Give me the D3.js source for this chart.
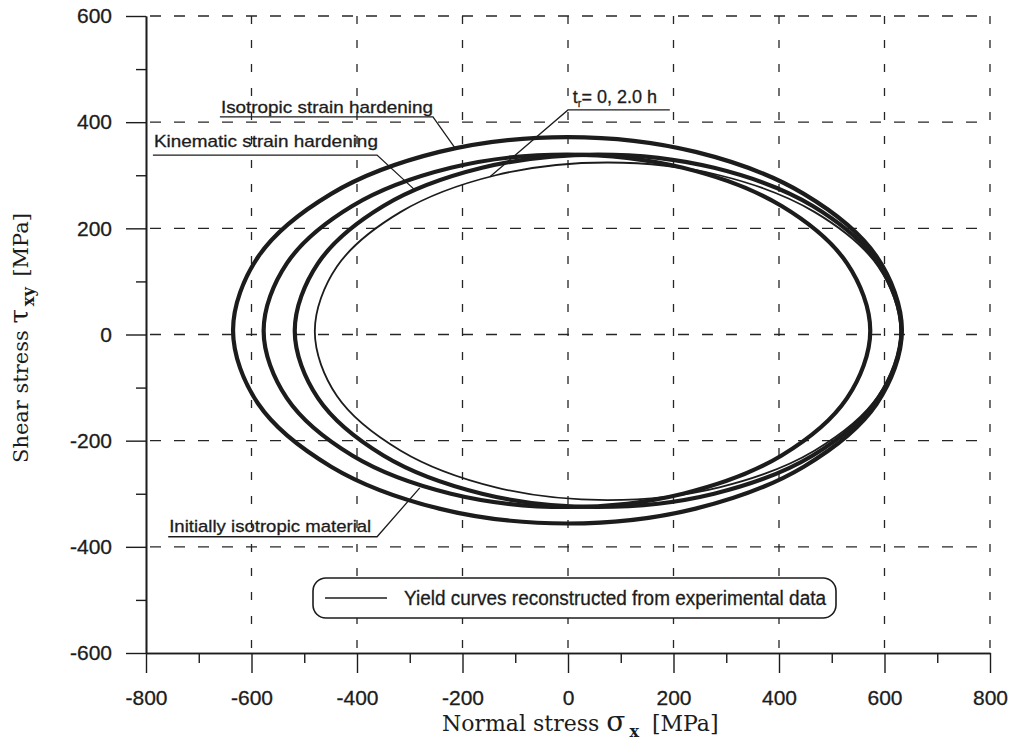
<!DOCTYPE html>
<html>
<head>
<meta charset="utf-8">
<script src="https://cdn.jsdelivr.net/npm/d3@7"></script>
<style>
  html, body { margin: 0; padding: 0; background: #fff; }
  svg { display: block; }
</style>
</head>
<body>
<svg id="chart" width="1018" height="740"></svg>
<script>
// ---- tick values (MPa) ----
const xMajorTicks = [-800, -600, -400, -200, 0, 200, 400, 600, 800];
const xMinorTicks = [-700, -500, -300, -100, 100, 300, 500, 700];
const yMajorTicks = [-600, -400, -200, 0, 200, 400, 600];
const yMinorTicks = [-500, -300, -100, 100, 300, 500];
const xGridValues = [-600, -400, -200, 0, 200, 400, 600, 800];
const yGridValues = [-400, -200, 0, 200, 400, 600];

// ---- yield curves, points [sigma_x, tau_xy] in MPa ----
const isotropicHardening = [
  [633, 8], [585, 147], [447, 265], [242, 344], [-1, 372], [-244, 344], [-449, 265], [-587, 147],
  [-635, 8], [-587, -131], [-449, -249], [-244, -328], [-1, -356], [242, -328], [447, -249], [585, -131]
];
const initialIsotropic = [
  [573, 7], [529, 134], [405, 242], [218, 314], [-2, 339], [-222, 314], [-409, 242], [-533, 134],
  [-577, 7], [-533, -120], [-409, -228], [-222, -300], [-2, -325], [218, -300], [405, -228], [529, -120]
];
const kinematicHardening = [
  [632, 7], [588, 134], [464, 242], [277, 314], [57, 339], [-163, 314], [-350, 242], [-474, 134],
  [-518, 7], [-474, -120], [-350, -228], [-163, -300], [57, -325], [277, -300], [464, -228], [588, -120]
];
const experimentalCurve = [
  [630, 6], [588, 128], [467, 231], [287, 300], [75, 324], [-137, 300], [-317, 231], [-438, 128],
  [-480, 6], [-438, -116], [-317, -219], [-137, -288], [75, -312], [287, -288], [467, -219], [588, -116]
];

// ---- labels with leader lines (positions in MPa) ----
const labelTexts = ["Isotropic strain hardening", "Kinematic strain hardening", "Initially isotropic material"];
const labelStart = [[-658, 417], [-785, 353], [-756, -372]];
const labelWidth = [212, 224, 202];
const underlineY = [410, 338, -381];
const underlineEnd = [-256, -362, -362];
const leaderEnd = [[-214, 351], [-290, 272], [-281, -289]];

const timeLabelStart = [9, 436];
const timeUnderline = [[0, 423], [193, 423]];
const timeLeaderEnd = [-148, 297];

const legendText = "Yield curves reconstructed from experimental data";

// ---- scales ----
const svg = d3.select("#chart");
const x = d3.scaleLinear().domain([-800, 800]).range([146, 990]);
const y = d3.scaleLinear().domain([-600, 600]).range([653, 16]);

const ink = "#1c1c1c";
const sansFont = "'Liberation Sans', Arial, Helvetica, sans-serif";
const serifFont = "'DejaVu Serif', 'Liberation Serif', serif";
const plainNumber = d => String(d);

// ---- dashed grid ----
const grid = svg.append("g").attr("stroke", "#262626").attr("stroke-width", 1.3).attr("fill", "none");
grid.selectAll("line.vg").data(xGridValues).join("line")
  .attr("class", "vg")
  .attr("x1", d => x(d)).attr("x2", d => x(d))
  .attr("y1", y(600)).attr("y2", y(-600))
  .attr("stroke-dasharray", "8,16");
grid.selectAll("line.hg").data(yGridValues).join("line")
  .attr("class", "hg")
  .attr("x1", x(-800) + 4).attr("x2", x(800))
  .attr("y1", d => y(d)).attr("y2", d => y(d))
  .attr("stroke-dasharray", "11,13");

// ---- legend box (covers grid) ----
const legend = svg.append("g");
legend.append("rect")
  .attr("x", 313).attr("y", 578).attr("width", 523).attr("height", 40)
  .attr("rx", 13).attr("ry", 13)
  .attr("fill", "#fff").attr("stroke", ink).attr("stroke-width", 1.6);
legend.append("line")
  .attr("x1", 325).attr("x2", 387).attr("y1", 598).attr("y2", 598)
  .attr("stroke", ink).attr("stroke-width", 1.5);
legend.append("text")
  .attr("x", 404).attr("y", 605)
  .attr("font-family", sansFont).attr("font-size", 20).attr("fill", ink)
  .attr("stroke", ink).attr("stroke-width", 0.3)
  .attr("textLength", 422).attr("lengthAdjust", "spacingAndGlyphs")
  .text(legendText);

// ---- axes ----
function styleAxis(g) {
  g.select(".domain").attr("stroke", ink).attr("stroke-width", 1.6);
  g.selectAll(".tick line").attr("stroke", ink).attr("stroke-width", 1.4);
  g.selectAll(".tick text").attr("fill", ink).attr("font-family", sansFont).attr("font-size", 21)
    .attr("stroke", ink).attr("stroke-width", 0.3);
}

svg.append("g").attr("transform", `translate(0,${y(-600)})`)
  .call(d3.axisBottom(x).tickValues(xMinorTicks).tickSize(10).tickSizeOuter(0).tickFormat(""))
  .call(styleAxis);
svg.append("g").attr("transform", `translate(0,${y(-600)})`)
  .call(d3.axisBottom(x).tickValues(xMajorTicks).tickSize(20).tickSizeOuter(0).tickPadding(17).tickFormat(plainNumber))
  .call(styleAxis);

svg.append("g").attr("transform", `translate(${x(-800)},0)`)
  .call(d3.axisLeft(y).tickValues(yMinorTicks).tickSize(10).tickSizeOuter(0).tickFormat(""))
  .call(styleAxis);
svg.append("g").attr("transform", `translate(${x(-800)},0)`)
  .call(d3.axisLeft(y).tickValues(yMajorTicks).tickSize(20).tickSizeOuter(0).tickPadding(14).tickFormat(plainNumber))
  .call(styleAxis);

// ---- axis titles ----
const xTitle = svg.append("text")
  .attr("x", 442).attr("y", 731)
  .attr("font-family", serifFont).attr("font-size", 22).attr("fill", ink);
xTitle.append("tspan").text("Normal stress ");
xTitle.append("tspan").attr("font-size", 28).text("σ");
xTitle.append("tspan").attr("font-size", 16).attr("font-weight", "bold").attr("dy", 6).attr("dx", 4).text("x");
xTitle.append("tspan").attr("dy", -6).attr("dx", 6).text(" [MPa]");

const yTitle = svg.append("text")
  .attr("transform", "rotate(-90)")
  .attr("x", -338).attr("y", 28)
  .attr("text-anchor", "middle")
  .attr("font-family", serifFont).attr("font-size", 21).attr("fill", ink);
yTitle.append("tspan").text("Shear stress ");
yTitle.append("tspan").attr("font-size", 26).text("τ");
yTitle.append("tspan").attr("font-size", 16).attr("font-weight", "bold").attr("dy", 6).attr("dx", 3).text("xy");
yTitle.append("tspan").attr("dy", -6).attr("dx", 4).text(" [MPa]");

// ---- yield curves ----
const curveLine = d3.line()
  .x(d => x(d[0])).y(d => y(d[1]))
  .curve(d3.curveCatmullRomClosed.alpha(0.5));

const curves = svg.append("g").attr("fill", "none").attr("stroke", ink);
[isotropicHardening, initialIsotropic, kinematicHardening].forEach(pts => {
  curves.append("path").attr("d", curveLine(pts)).attr("stroke-width", 4.2);
});
curves.append("path").attr("d", curveLine(experimentalCurve)).attr("stroke-width", 1.8);

// ---- labels with leader lines ----
const notes = svg.append("g");
labelTexts.forEach((t, i) => {
  notes.append("text")
    .attr("x", x(labelStart[i][0])).attr("y", y(labelStart[i][1]))
    .attr("font-family", sansFont).attr("font-size", 17).attr("fill", ink)
    .attr("stroke", ink).attr("stroke-width", 0.3)
    .attr("textLength", labelWidth[i]).attr("lengthAdjust", "spacingAndGlyphs")
    .text(t);
  notes.append("polyline")
    .attr("points", [
      [x(labelStart[i][0]) - 1, y(underlineY[i])],
      [x(underlineEnd[i]), y(underlineY[i])],
      [x(leaderEnd[i][0]), y(leaderEnd[i][1])]
    ].map(p => p.join(",")).join(" "))
    .attr("fill", "none").attr("stroke", ink).attr("stroke-width", 1.3);
});

const tLabel = notes.append("text")
  .attr("x", x(timeLabelStart[0])).attr("y", y(timeLabelStart[1]))
  .attr("font-family", sansFont).attr("font-size", 18).attr("fill", ink)
  .attr("stroke", ink).attr("stroke-width", 0.3);
tLabel.append("tspan").text("t");
tLabel.append("tspan").attr("font-size", 11).attr("dy", 4).text("r");
tLabel.append("tspan").attr("dy", -4).text("= 0, 2.0 h");
notes.append("polyline")
  .attr("points", [
    [x(timeUnderline[1][0]), y(timeUnderline[1][1])],
    [x(timeUnderline[0][0]), y(timeUnderline[0][1])],
    [x(timeLeaderEnd[0]), y(timeLeaderEnd[1])]
  ].map(p => p.join(",")).join(" "))
  .attr("fill", "none").attr("stroke", ink).attr("stroke-width", 1.3);
</script>
</body>
</html>
